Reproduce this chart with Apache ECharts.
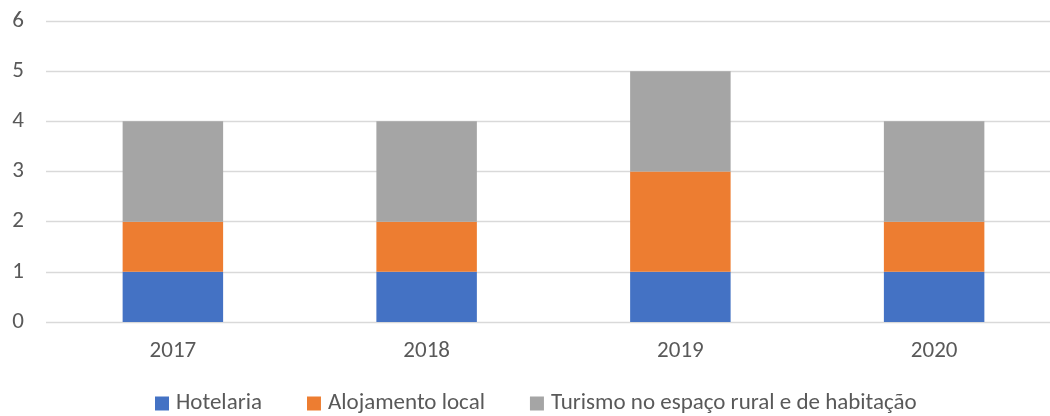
<!DOCTYPE html>
<html><head><meta charset="utf-8">
<script src="https://cdn.jsdelivr.net/npm/echarts@6/dist/echarts.min.js"></script>
<style>html,body{margin:0;padding:0;background:#fff;overflow:hidden}#c{width:1061px;height:416px}</style>
</head><body><div id="c"></div>
<script>
const categories = ['2017', '2018', '2019', '2020'];
const hotelaria = [1, 1, 1, 1];
const alojamentoLocal = [1, 1, 2, 1];
const turismoRural = [2, 2, 2, 2];
const seriesNames = ['Hotelaria', 'Alojamento local', 'Turismo no espaço rural e de habitação'];
const yTicks = [0, 1, 2, 3, 4, 5, 6];

const font = 'Carlito, Lato, "Liberation Sans", sans-serif';
const chart = echarts.init(document.getElementById('c'));
const mk = (name, data, color) => ({
  name, type: 'bar', stack: 's', data, barWidth: '39.6%',
  itemStyle: { color }, emphasis: { disabled: true }
});
chart.setOption({
  animation: false,
  textStyle: { fontFamily: font },
  grid: { left: 46, right: 0, top: 21, bottom: 94 },
  legend: {
    left: 155, top: 392, padding: 0, itemWidth: 14, itemHeight: 14, itemGap: 45,
    icon: 'rect',
    textStyle: { fontSize: 23, color: '#595959', fontFamily: font, padding: [0, 0, 0, 2] },
    data: seriesNames
  },
  xAxis: {
    type: 'category', data: categories,
    axisLine: { show: false }, axisTick: { show: false },
    axisLabel: { fontSize: 23, color: '#595959', margin: 18 }
  },
  yAxis: {
    type: 'value', min: yTicks[0], max: yTicks[yTicks.length - 1], interval: 1,
    axisLine: { show: false }, axisTick: { show: false },
    axisLabel: { fontSize: 23, color: '#595959', margin: 22 },
    splitLine: { lineStyle: { color: '#D9D9D9', width: 1.3 } }
  },
  series: [
    mk(seriesNames[0], hotelaria, '#4472C4'),
    mk(seriesNames[1], alojamentoLocal, '#ED7D31'),
    mk(seriesNames[2], turismoRural, '#A5A5A5')
  ]
});
</script></body></html>
